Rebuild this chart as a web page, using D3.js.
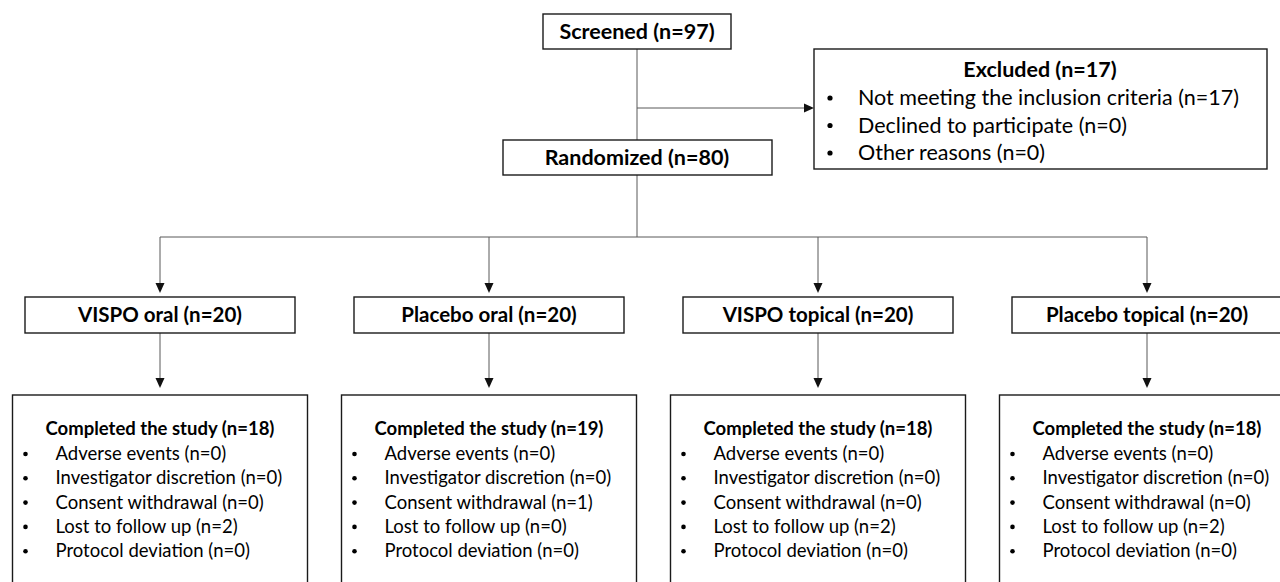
<!DOCTYPE html>
<html>
<head>
<meta charset="utf-8">
<script src="https://cdn.jsdelivr.net/npm/d3@7"></script>
<style>
  body { margin: 0; background: #fff; }
  text { font-family: Lato, 'Open Sans', sans-serif; fill: #000; }
</style>
</head>
<body>
<svg></svg>
<script>
const screened = 97
const randomized = 80
const excludedReasons = ['Not meeting the inclusion criteria', 'Declined to participate', 'Other reasons']
const excludedCounts = [17, 0, 0]
const groups = ['VISPO oral', 'Placebo oral', 'VISPO topical', 'Placebo topical']
const allocated = [20, 20, 20, 20]
const completed = [18, 19, 18, 18]
const dropReasons = ['Adverse events', 'Investigator discretion', 'Consent withdrawal', 'Lost to follow up', 'Protocol deviation']
const dropCounts = [
  [0, 0, 0, 2, 0],
  [0, 0, 1, 0, 0],
  [0, 0, 0, 2, 0],
  [0, 0, 0, 2, 0]
]

const svgWidth = 1280
const svgHeight = 582
const midX = 637

const svg = d3.select('svg')
  .attr('width', svgWidth)
  .attr('height', svgHeight)

const xScale = d3.scalePoint()
  .domain(groups)
  .range([160, 1147])

const lineColor = '#595959'
const boxColor = '#1a1a1a'

const drawBox = (x, y, w, h) => {
  svg.append('rect')
    .attr('x', x).attr('y', y)
    .attr('width', w).attr('height', h)
    .attr('fill', '#fff')
    .attr('stroke', boxColor)
    .attr('stroke-width', 1.4)
}

const drawLine = (x1, y1, x2, y2) => {
  svg.append('line')
    .attr('x1', x1).attr('y1', y1)
    .attr('x2', x2).attr('y2', y2)
    .attr('stroke', lineColor)
    .attr('stroke-width', 1)
}

// tip of arrow at (x,y), pointing down or right
const drawHead = (x, y, dir) => {
  let pts = dir == 'down'
    ? [[x, y], [x - 4.5, y - 10], [x + 4.5, y - 10]]
    : [[x, y], [x - 10, y - 4.5], [x - 10, y + 4.5]]
  svg.append('polygon')
    .attr('points', pts.map(p => p.join(',')).join(' '))
    .attr('fill', '#111')
}

const label = (x, y, txt, size, bold, anchor) => {
  return svg.append('text')
    .attr('x', x).attr('y', y)
    .attr('font-size', size)
    .attr('font-weight', bold ? 700 : 400)
    .attr('text-anchor', anchor || 'middle')
    .text(txt)
}

// small round bullet, centred on the x-height of the line
const bullet = (x, y, r) => {
  svg.append('circle')
    .attr('cx', x).attr('cy', y)
    .attr('r', r)
    .attr('fill', '#000')
}

// connectors
drawLine(midX, 49, midX, 140)
drawLine(midX, 108, 812, 108)
drawHead(814, 108, 'right')
drawLine(midX, 175, midX, 237)
drawLine(xScale(groups[0]), 237, xScale(groups[groups.length - 1]), 237)
groups.forEach(g => {
  drawLine(xScale(g), 237, xScale(g), 290)
  drawHead(xScale(g), 293, 'down')
  drawLine(xScale(g), 333, xScale(g), 385)
  drawHead(xScale(g), 388, 'down')
})

// screened
drawBox(543, 14, 188, 35)
label(midX, 39, 'Screened (n=' + screened + ')', 21.5, true)

// randomized
drawBox(503, 140, 269, 35)
label(midX, 165, 'Randomized (n=' + randomized + ')', 21.5, true)

// excluded
drawBox(814, 49, 453, 120)
label(1040, 77, 'Excluded (n=' + d3.sum(excludedCounts) + ')', 21.5, true)
excludedReasons.forEach((r, i) => {
  let y = 105 + i * 27.5
  bullet(830, y - 7, 2.6)
  label(858, y, r + ' (n=' + excludedCounts[i] + ')', 21.5, false, 'start')
})

// allocation boxes
groups.forEach((g, i) => {
  let w = 270
  drawBox(xScale(g) - w / 2, 297, w, 36)
  label(xScale(g), 322, g + ' (n=' + allocated[i] + ')', 20.5, true)
})

// completion boxes
groups.forEach((g, i) => {
  let w = 295
  let x0 = xScale(g) - w / 2
  drawBox(x0, 395, w, 220)
  label(xScale(g), 435, 'Completed the study (n=' + completed[i] + ')', 18.5, true)
  dropReasons.forEach((r, j) => {
    let y = 460 + j * 24.3
    bullet(x0 + 13, y - 6, 2.3)
    label(x0 + 43, y, r + ' (n=' + dropCounts[i][j] + ')', 18.5, false, 'start')
  })
})
</script>
</body>
</html>
